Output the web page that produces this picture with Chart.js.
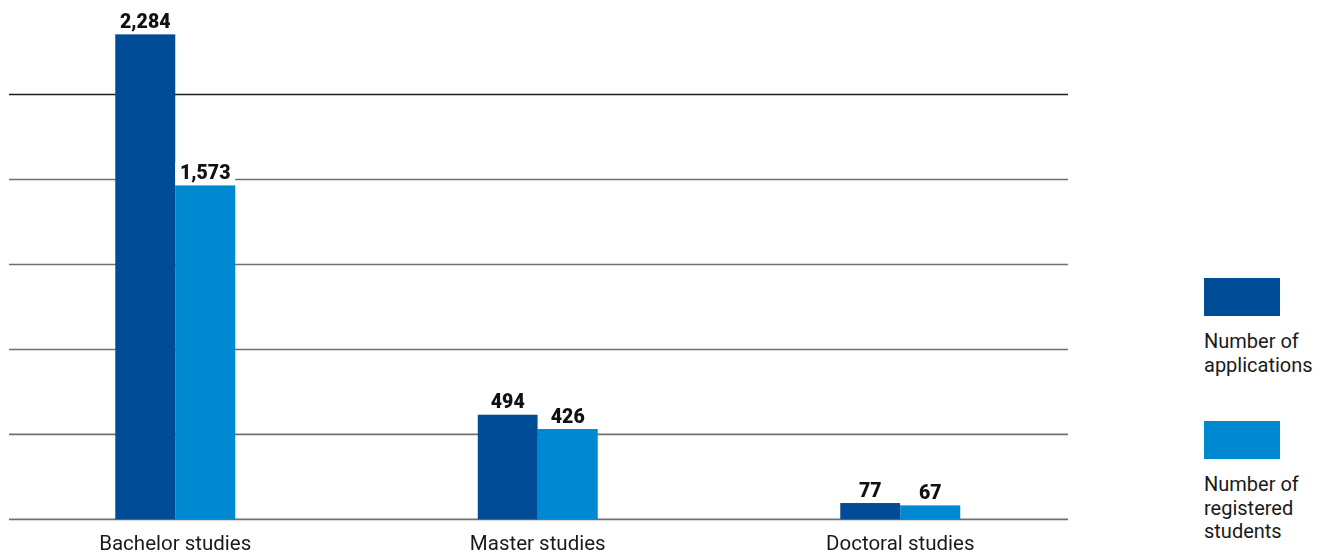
<!DOCTYPE html>
<html>
<head>
<meta charset="utf-8">
<script src="https://cdn.jsdelivr.net/npm/chart.js@4"></script>
<style>
  html, body { margin: 0; padding: 0; background: #fff; }
  body { width: 1317px; height: 554px; position: relative; overflow: hidden; font-family: Roboto, sans-serif; }
  #wrap { position: absolute; left: -6px; top: 0; width: 1100px; height: 572px; }
  .swatch { position: absolute; left: 1204px; width: 76px; height: 38px; }
  .legtext { position: absolute; left: 1204px; font-size: 20px; line-height: 23.5px; color: #1a1a1a; }
</style>
</head>
<body>
<div id="wrap"><canvas id="chart"></canvas></div>
<div class="swatch" style="top:278px; background:#004c97"></div>
<div class="legtext" style="top:330px">Number of<br>applications</div>
<div class="swatch" style="top:421px; background:#0089d0"></div>
<div class="legtext" style="top:473px">Number of<br>registered<br>students</div>
<script>
// data
const categories = ['Bachelor studies', 'Master studies', 'Doctoral studies'];
const applications = [2284, 494, 77];
const registered = [1573, 426, 67];
const seriesNames = ['Number of applications', 'Number of registered students'];
const yMax = 2400;
const yStep = 400;

const darkBlue = '#004c97';
const lightBlue = '#0089d0';

// horizontal lines, shorter than the chart area
const gridPlugin = {
  id: 'shortGrid',
  beforeDatasetsDraw(chart) {
    const y = chart.scales.y;
    const ctx = chart.ctx;
    const x0 = 15, x1 = 1074; // canvas coords (page -6)
    ctx.save();
    y.ticks.forEach(t => {
      if (t.value >= yMax) return;
      const py = y.getPixelForValue(t.value);
      ctx.beginPath();
      ctx.strokeStyle = t.value === 2000 ? '#1e1e1e' : '#707070';
      ctx.lineWidth = t.value === 2000 ? 1.3 : 1.6;
      ctx.moveTo(x0, py);
      ctx.lineTo(x1, py);
      ctx.stroke();
    });
    ctx.restore();
  }
};

// value labels over bars, on a white box
const labelPlugin = {
  id: 'barLabels',
  afterDatasetsDraw(chart) {
    const ctx = chart.ctx;
    ctx.save();
    chart.data.datasets.forEach((ds, di) => {
      chart.getDatasetMeta(di).data.forEach((bar, i) => {
        const w = bar.width;
        ctx.fillStyle = '#fff';
        ctx.fillRect(bar.x - w / 2, bar.y - 23, w, 23);
        ctx.fillStyle = '#111';
        ctx.font = '900 19.5px Roboto';
        ctx.textAlign = 'center';
        ctx.textBaseline = 'alphabetic';
        ctx.fillText(ds.data[i].toLocaleString('en-US'), bar.x, bar.y - 6);
      });
    });
    ctx.restore();
  }
};

new Chart(document.getElementById('chart'), {
  type: 'bar',
  data: {
    labels: categories,
    datasets: [
      { label: seriesNames[0], data: applications, backgroundColor: darkBlue },
      { label: seriesNames[1], data: registered, backgroundColor: lightBlue }
    ]
  },
  options: {
    responsive: true,
    maintainAspectRatio: false,
    animation: false,
    layout: { padding: { left: 0, right: 12.5, top: 9.5, bottom: 2 } },
    categoryPercentage: 0.331,
    barPercentage: 1,
    plugins: { legend: { display: false }, tooltip: { enabled: false } },
    scales: {
      x: {
        grid: { display: false, drawTicks: false },
        border: { display: false },
        ticks: { color: '#1a1a1a', font: { family: 'Roboto', size: 20.5 }, padding: 13, maxRotation: 0 }
      },
      y: {
        display: false,
        min: 0,
        max: yMax,
        ticks: { stepSize: yStep }
      }
    }
  },
  plugins: [gridPlugin, labelPlugin]
});
</script>
</body>
</html>
